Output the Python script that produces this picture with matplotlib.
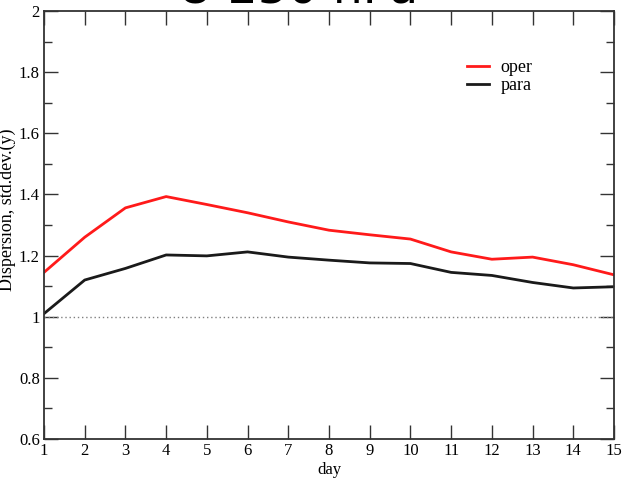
import numpy as np
import matplotlib.pyplot as plt
from matplotlib.ticker import MultipleLocator

plt.rcParams['font.family'] = ['Liberation Serif', 'DejaVu Serif']

days = np.arange(1, 16)
oper = [1.145, 1.26, 1.356, 1.393, 1.367, 1.34, 1.31, 1.283, 1.268, 1.254,
        1.212, 1.188, 1.195, 1.17, 1.137]
para = [1.01, 1.12, 1.158, 1.202, 1.199, 1.212, 1.195, 1.185, 1.176, 1.174,
        1.145, 1.135, 1.112, 1.094, 1.098]
ytick_vals = [0.6, 0.8, 1.0, 1.2, 1.4, 1.6, 1.8, 2.0]
ytick_labels = ['0.6', '0.8', '1', '1.2', '1.4', '1.6', '1.8', '2']

fig = plt.figure(figsize=(6.22, 4.79), dpi=100)
ax = fig.add_axes([44 / 622, 1 - 439 / 479, 570 / 622, 428 / 479])

# reference line at 1
ax.axhline(1.0, color='gray', linestyle=(0, (1, 2)), linewidth=1.0)
ax.plot(days, oper, color='#ff1a1a', linewidth=2, label='oper')
ax.plot(days, para, color='#1a1a1a', linewidth=2, label='para')

ax.set_xlim(1, 15)
ax.set_ylim(0.6, 2.0)
ax.xaxis.set_major_locator(MultipleLocator(1))
ax.set_yticks(ytick_vals)
ax.set_yticklabels(ytick_labels)
ax.yaxis.set_minor_locator(MultipleLocator(0.1))
ax.tick_params(which='both', direction='in', top=True, right=True,
               labelsize=12, width=1.0, color='#333333')
ax.tick_params(which='major', length=10, pad=3)
ax.tick_params(which='minor', length=6)
for s in ax.spines.values():
    s.set_linewidth(1.3)
    s.set_color('#333333')

ax.set_xlabel('day', fontsize=12, labelpad=2)
ax.set_ylabel('Dispersion, std.dev.(y)', fontsize=13)
ax.yaxis.set_label_coords(-0.049, 0.535)

ax.legend(loc='upper right', bbox_to_anchor=(0.886, 0.925), frameon=False,
          fontsize=13, handlelength=1.2, handletextpad=0.65,
          labelspacing=0.05)

fig.text(0.48, 1.02, 'U 250 hPa', ha='center', va='center', fontsize=34,
         family='DejaVu Sans')

fig.savefig('out.png', dpi=100)
